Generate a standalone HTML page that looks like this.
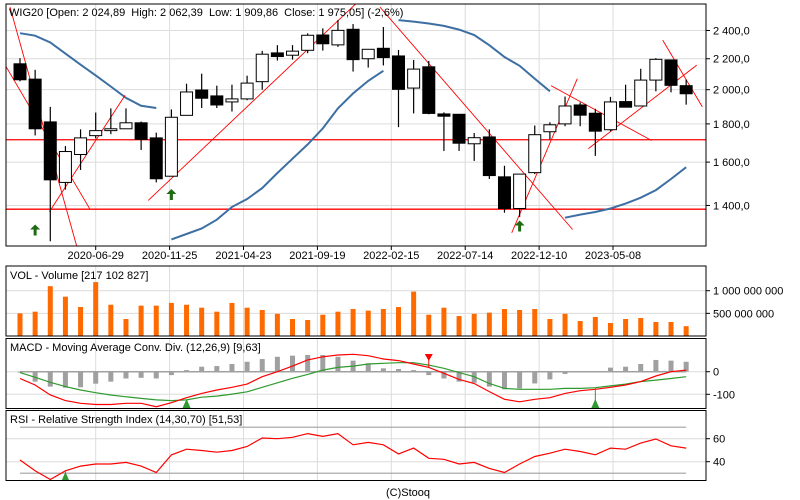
<!DOCTYPE html>
<html><head><meta charset="utf-8"><style>
html,body{margin:0;padding:0;background:#fff;}
svg{display:block;font-family:"Liberation Sans",Arial,sans-serif;font-size:11px;}
</style></head><body>
<svg id="chart" width="800" height="500" viewBox="0 0 800 500" xmlns="http://www.w3.org/2000/svg">
<defs>
<clipPath id="cMain"><rect x="6" y="4" width="700" height="242"/></clipPath>
<clipPath id="cMacd"><rect x="6" y="338" width="700" height="70"/></clipPath>
<clipPath id="cRsi"><rect x="6" y="410" width="700" height="70"/></clipPath>
</defs>
<rect x="0" y="0" width="800" height="500" fill="#fff"/>
<g id="grid"></g>
<g id="main" clip-path="url(#cMain)"></g>
<g id="vol"></g>
<g id="macd" clip-path="url(#cMacd)"></g>
<g id="rsi" clip-path="url(#cRsi)"></g>
<g id="axes"></g>
<rect x="6" y="4" width="700" height="242" fill="none" stroke="#000"/>
<rect x="6" y="266" width="700" height="70" fill="none" stroke="#000"/>
<rect x="6" y="338.5" width="700" height="70" fill="none" stroke="#000"/>
<rect x="6" y="410.5" width="700" height="70" fill="none" stroke="#000"/>
<text x="9" y="16" xml:space="preserve">WIG20 [Open: 2 024,89  High: 2 062,39  Low: 1 909,86  Close: 1 975,05] (-2,6%)</text>
<text x="10" y="279">VOL - Volume [217 102 827]</text>
<text x="10" y="351">MACD - Moving Average Conv. Div. (12,26,9) [9,63]</text>
<text x="10" y="423">RSI - Relative Strength Index (14,30,70) [51,53]</text>
<text x="408" y="496" text-anchor="middle">(C)Stooq</text>
</svg>
<script>
const opens=[2166,2066,1811,1503,1638,1736,1763,1773,1806,1724,1532,1848,1998,1962,1926,1944,2050,2240,2224,2258,2367,2296,2409,2200,2272,2219,2010,2146,1856,1854,1693,1729,1529,1387,1549,1757,1800,1908,1860,1768,1928,1902,2060,2192,2024.89];
const highs=[2204,2126,1897,1681,1770,1864,1888,1888,1813,1752,1882,2037,2101,2025,2031,2088,2254,2294,2294,2379,2416,2478,2448,2265,2426,2260,2192,2185,1865,1854,1750,1770,1582,1542,1791,1809,1958,1923,1886,1956,2031,2133,2204,2192,2062.39];
const lows=[2052,1737,1254,1470,1562,1721,1744,1773,1661,1503,1532,1848,1890,1890,1870,1936,2000,2188,2194,2238,2256,2282,2115,2141,2155,1782,1859,1854,1656,1656,1606,1519,1369,1351,1542,1716,1787,1787,1631,1760,1895,1902,1990,1984,1909.86];
const closes=[2062,1773,1515,1653,1724,1763,1773,1806,1716,1520,1837,1986,1948,1908,1944,2041,2231,2215,2252,2365,2304,2401,2194,2265,2208,2002,2131,1859,1843,1696,1725,1535,1387,1542,1741,1795,1902,1849,1760,1926,1895,2060,2196,2027,1975.05];
const volumes=[0.50,0.537,1.10,0.868,0.64,1.19,0.69,0.375,0.67,0.67,0.73,0.69,0.625,0.537,0.73,0.625,0.574,0.49,0.375,0.353,0.47,0.537,0.596,0.56,0.596,0.64,0.98,0.47,0.625,0.44,0.49,0.515,0.596,0.574,0.596,0.375,0.49,0.33,0.42,0.287,0.375,0.397,0.31,0.31,0.217];
const bandUpper1=[2380,2362,2313,2235,2160,2090,2020,1950,1903,1890];
const bandLower1=[1261,1282,1304,1340,1394,1428,1477,1547,1617,1690,1775,1888,1977,2055,2120];
const bandUpper2=[2478,2467,2452,2434,2407,2367,2294,2212,2153,2069,1990];
const bandLower2=[1348,1361,1372,1387,1408,1434,1468,1519,1575];
const trendLines=[[-0.66,2579,3.74,1236],[-0.99,2159,4.62,1384],[1.94,1373,6.94,1966],[8.47,1422,22.34,2624],[23.78,2579,36.5,1300],[32.48,1287,36.81,2069],[35.07,2025,41.72,1710],[37.54,1668,44.7,2157],[42.45,2330,45.07,1897]];
const levels=[1714,1384];
const buyArrows=[1,10,33];
const buyArrowPrices=[1296,1446,1312];
const priceTicks=[2400,2200,2000,1800,1600,1400];
const priceTickLabels=["2 400,0","2 200,0","2 000,0","1 800,0","1 600,0","1 400,0"];
const dateTicks=["2020-06-29","2020-11-25","2021-04-23","2021-09-19","2022-02-15","2022-07-14","2022-12-10","2023-05-08"];
const volTicks=[1.0,0.5];
const volTickLabels=["1 000 000 000","500 000 000"];
const macdLine=[-30,-59,-103,-128,-140,-145,-145,-140,-140,-155,-137,-115,-96,-81,-69,-55,-22,0,25,52,66,74,77,71,56,49,34,19,-7,-34,-52,-88,-122,-133,-122,-115,-96,-84,-78,-69,-59,-44,-19,0,7];
const signalLine=[-4,-25,-47,-66,-81,-93,-103,-111,-118,-125,-128,-125,-113,-108,-99,-89,-69,-49,-29,-12,7,19,25,34,37,40,40,29,15,-4,-22,-52,-74,-78,-78,-78,-74,-74,-71,-63,-55,-44,-37,-30,-22];
const macdHist=[-4,-44,-66,-71,-69,-53,-44,-30,-27,-30,-15,7,22,25,34,44,56,66,71,74,74,66,49,37,15,12,7,-15,-30,-44,-49,-66,-78,-74,-52,-34,-10,0,0,18,22,34,52,49,44];
const macdTicks=[0,-100];
const macdBuy=[11,38];
const macdSell=[27];
const rsiValues=[41.5,32.1,24.5,32.1,36.2,38.0,38.0,39.4,36.2,30.6,45.9,50.9,49.7,48.3,49.7,53.2,60.6,60.0,61.2,64.4,62.0,64.4,54.7,56.8,54.7,46.8,51.8,43.0,42.1,38.0,39.4,34.2,30.6,38.0,44.5,47.4,50.9,48.9,46.0,51.8,50.9,56.2,59.7,53.8,51.8];
const rsiTicks=[60,40];
const rsiBands=[70,30];
const rsiBuy=[3];

const NS="http://www.w3.org/2000/svg";
function mk(tag,attrs,parent){const e=document.createElementNS(NS,tag);for(const k in attrs)e.setAttribute(k,attrs[k]);parent.appendChild(e);return e;}
const X=i=>20+15.14*i;
const Y=p=>30.5+Math.log(2400/p)*324.6;
const VY=v=>336-v*45.3;
const MY=v=>371.7-v*0.226;
const RY=v=>438.7+(60-v)*1.15;
const t0=Date.parse("2020-06-29"),pxPerDay=(613-95.7)/((Date.parse("2023-05-08")-t0)/86400000);
const DX=d=>95.7+(Date.parse(d)-t0)/86400000*pxPerDay;
const grid=document.getElementById('grid'),main=document.getElementById('main'),vol=document.getElementById('vol'),macd=document.getElementById('macd'),rsi=document.getElementById('rsi'),axes=document.getElementById('axes');
const GC="#dcdcdc";
dateTicks.forEach(d=>{const x=DX(d);
 [[4,246],[266,336],[338.5,408.5],[410.5,480.5]].forEach(r=>{const l=mk('line',{x1:x,x2:x,y1:r[0],y2:r[1],stroke:GC},grid);
 
 });
 const tk=mk('line',{x1:x,x2:x,y1:246,y2:250,stroke:"#000"},axes);
 
 
 const t=mk('text',{x:x,y:259,'text-anchor':'middle'},axes);t.textContent=d;
 
 });
function hTick(y,label,name){const l=mk('line',{x1:6,x2:706,y1:y,y2:y,stroke:GC},grid);
 
 
 const tk=mk('line',{x1:706,x2:710,y1:y,y2:y,stroke:"#000"},axes);
 
 
 const t=mk('text',{x:713,y:y+4},axes);t.textContent=label;
 
 }
priceTicks.forEach((p,k)=>hTick(Y(p),priceTickLabels[k],'price-tick-label'));
volTicks.forEach((v,k)=>hTick(VY(v),volTickLabels[k],'volume-tick-label'));
macdTicks.forEach(v=>hTick(MY(v),String(v),'macd-tick-label'));
rsiTicks.forEach(v=>hTick(RY(v),String(v),'rsi-tick-label'));
levels.forEach(p=>{const l=mk('line',{x1:6,x2:706,y1:Y(p),y2:Y(p),stroke:"#ff0000","stroke-width":1.3},main);
 
 });
function band(arr,start,name){const pts=arr.map((v,k)=>X(start+k).toFixed(1)+","+Y(v).toFixed(1)).join(" ");
 const l=mk('polyline',{points:pts,fill:"none",stroke:"#3d6fa3","stroke-width":2},main);
 
 }
band(bandUpper1,0,'upper-band-1');band(bandLower1,10,'lower-band-1');band(bandUpper2,25,'upper-band-2');band(bandLower2,36,'lower-band-2');
trendLines.forEach(t=>{const l=mk('line',{x1:X(t[0]),y1:Y(t[1]),x2:X(t[2]),y2:Y(t[3]),stroke:"#ff0000","stroke-width":0.9},main);
 
 });
opens.forEach((o,i)=>{const c=closes[i],x=X(i);
 const w=mk('line',{x1:x,x2:x,y1:Y(highs[i]),y2:Y(lows[i]),stroke:"#000","stroke-width":1.2},main);
 
 
 const top=Y(Math.max(o,c)),bot=Y(Math.min(o,c));
 const r=mk('rect',{x:x-6,y:top,width:12,height:Math.max(1,bot-top),fill:c<o?"#000":"#fff",stroke:"#000","stroke-width":1},main);
 
 });
buyArrows.forEach((i,k)=>{const x=X(i),ay=Y(buyArrowPrices[k]);
 const a=mk('path',{d:`M${x},${ay-6} L${x+5},${ay-1} L${x+1.5},${ay-1} L${x+1.5},${ay+5} L${x-1.5},${ay+5} L${x-1.5},${ay-1} L${x-5},${ay-1} Z`,fill:"#1f6a12"},main);
 
 });
volumes.forEach((v,i)=>{const r=mk('rect',{x:X(i)-2.5,y:VY(v),width:5,height:336-VY(v),fill:"#ff6a00"},vol);
 
 });
const z=mk('line',{x1:X(0),x2:X(44),y1:MY(0),y2:MY(0),stroke:"#a0a0a0","stroke-width":1.5},macd);


macdHist.forEach((v,i)=>{const y0=MY(0),y1=MY(v);const r=mk('rect',{x:X(i)-2.5,y:Math.min(y0,y1),width:5,height:Math.abs(y1-y0),fill:"#a0a0a0"},macd);
 
 });
function series(arr,yf,color,parent,name){const pts=arr.map((v,i)=>X(i).toFixed(1)+","+yf(v).toFixed(1)).join(" ");
 const l=mk('polyline',{points:pts,fill:"none",stroke:color,"stroke-width":1.2},parent);
 
 }
series(signalLine,MY,"#2f9a2f",macd,'macd-signal-line');
series(macdLine,MY,"#ff0000",macd,'macd-line');
function upTri(x,yb,parent,color){return mk('path',{d:`M${x},${yb-9} L${x+4},${yb} L${x-4},${yb} Z`,fill:color},parent);}
macdBuy.forEach(i=>{const x=X(i);const l=mk('line',{x1:x,x2:x,y1:MY(signalLine[i]),y2:407,stroke:"#2f9a2f"},macd);
 
 
 const t=upTri(x,408,macd,"#2f9a2f");
 
 });
macdSell.forEach(i=>{const x=X(i);const l=mk('line',{x1:x,x2:x,y1:355,y2:MY(macdLine[i]),stroke:"#ff0000"},macd);
 
 
 const t=mk('path',{d:`M${x-4},354 L${x+4},354 L${x},361 Z`,fill:"#ff0000"},macd);
 
 });
rsiBands.forEach(v=>{const l=mk('line',{x1:X(0),x2:X(44),y1:RY(v),y2:RY(v),stroke:"#a0a0a0","stroke-width":1.2},rsi);
 
 });
series(rsiValues,RY,"#ff0000",rsi,'rsi-line');
rsiBuy.forEach(i=>{const x=X(i);const t=upTri(x,481,rsi,"#2f9a2f");
 
 
 const l=mk('line',{x1:x,x2:x,y1:RY(rsiValues[i]),y2:478,stroke:"#2f9a2f"},rsi);
 
 });
</script>
</body></html>
